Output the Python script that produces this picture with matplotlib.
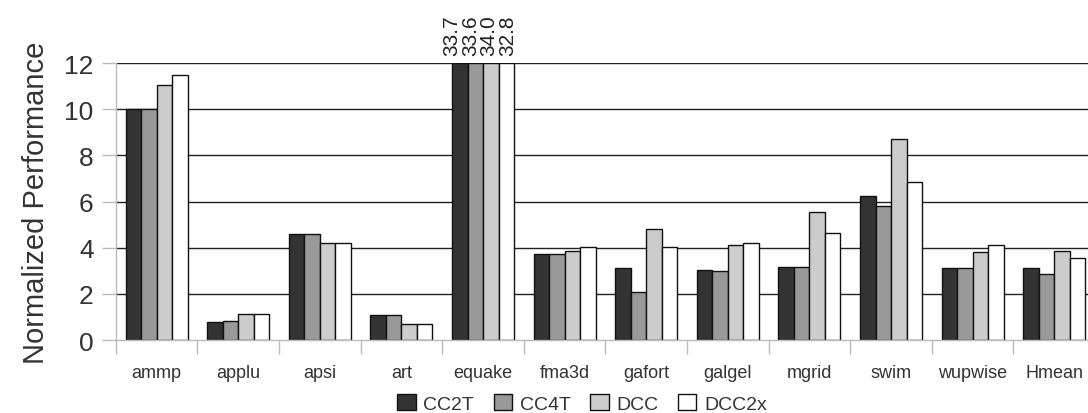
import matplotlib
matplotlib.use("Agg")
import matplotlib.pyplot as plt
from matplotlib.patches import Patch
import numpy as np

plt.rcParams['font.family'] = ['Liberation Sans', 'DejaVu Sans']

benchmarks = ["ammp", "applu", "apsi", "art", "equake", "fma3d", "gafort",
              "galgel", "mgrid", "swim", "wupwise", "Hmean"]
series_names = ["CC2T", "CC4T", "DCC", "DCC2x"]
cc2t = [10.0, 0.77, 4.62, 1.09, 33.7, 3.73, 3.11, 3.04, 3.15, 6.23, 3.12, 3.11]
cc4t = [10.03, 0.83, 4.62, 1.08, 33.6, 3.73, 2.10, 2.98, 3.15, 5.81, 3.12, 2.85]
dcc = [11.04, 1.13, 4.20, 0.69, 34.0, 3.88, 4.81, 4.14, 5.57, 8.72, 3.80, 3.88]
dcc2x = [11.49, 1.13, 4.23, 0.69, 32.8, 4.04, 4.04, 4.19, 4.65, 6.86, 4.14, 3.54]
y_ticks = [0, 2, 4, 6, 8, 10, 12]
y_max = 12

series = [cc2t, cc4t, dcc, dcc2x]
fills = ["#333333", "#999999", "#cccccc", "#ffffff"]

fig = plt.figure(figsize=(10.88, 4.14), dpi=100)
ax = fig.add_axes([0.1065, 0.176, 0.9, 0.669])

x = np.arange(len(benchmarks))
bw = 0.19
offsets = (np.arange(4) - 1.5) * bw

for vals, off, col in zip(series, offsets, fills):
    shown = np.minimum(vals, y_max)
    ax.bar(x + off, shown, width=bw, color=col, edgecolor="#111111",
           linewidth=1.0, zorder=3)
    # values beyond the axis get their number written above the clipped bar
    for xi, v in zip(x, vals):
        if v > y_max:
            ax.text(xi + off * 1.2 - 0.04, y_max + 0.35, f"{v:.1f}",
                    rotation=90, ha="center", va="bottom", fontsize=15,
                    color="#222222", clip_on=False)

ax.set_ylim(0, y_max)
ax.set_xlim(-0.5, len(benchmarks) - 0.5)
ax.set_yticks(y_ticks)
ax.set_yticklabels([str(t) for t in y_ticks], fontsize=19, color="#333333")
ax.tick_params(axis="y", length=10, width=1, color="#bbbbbb", pad=6)

for t in y_ticks[1:]:
    ax.axhline(t, color="#222222", linewidth=1.0, zorder=1)

ax.set_xticks(np.arange(len(benchmarks) + 1) - 0.5)
ax.set_xticklabels([])
ax.tick_params(axis="x", which="major", length=10, width=1, color="#bbbbbb")
ax.set_xticks(x, minor=True)
ax.set_xticklabels(benchmarks, minor=True, fontsize=13, color="#333333")
ax.tick_params(axis="x", which="minor", length=0, pad=17)

for side in ("top", "right"):
    ax.spines[side].set_visible(False)
for side in ("left", "bottom"):
    ax.spines[side].set_color("#bbbbbb")
    ax.spines[side].set_linewidth(1.0)
    ax.spines[side].set_zorder(4)

ax.set_ylabel("Normalized Performance", fontsize=21, color="#333333", labelpad=10)

handles = [Patch(facecolor=c, edgecolor="#111111", linewidth=1.0) for c in fills]
fig.legend(handles, series_names, loc="center", bbox_to_anchor=(0.535, 0.024),
           ncol=4, frameon=False, fontsize=14, handlelength=0.95,
           handleheight=0.95, handletextpad=0.4, columnspacing=1.0,
           labelcolor="#333333")

fig.savefig("out.png", dpi=100)
